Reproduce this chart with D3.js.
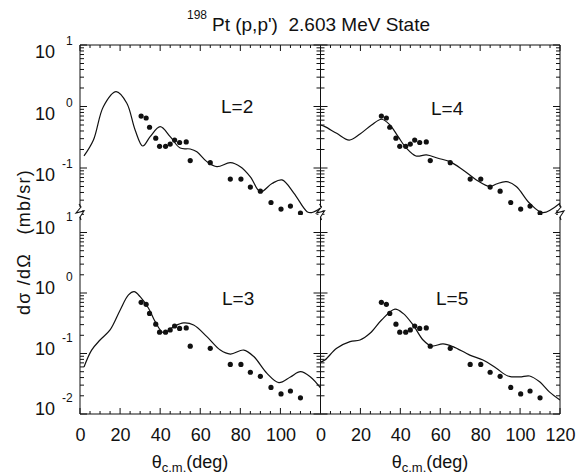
<!DOCTYPE html>
<html>
<head>
<meta charset="utf-8">
<script src="https://cdn.jsdelivr.net/npm/d3@7"></script>
<style>
  body { margin: 0; background: #fff; }
  text { font-family: "Liberation Sans", Arial, Helvetica, sans-serif; fill: #111; }
</style>
</head>
<body>
<svg id="chart" width="585" height="474"></svg>
<script>
// Measured angles (deg) and cross sections (mb/sr), same in every panel
const dataAngle = [30.5, 33, 34.7, 37.8, 39.7, 42.7, 45, 47.2, 49.7, 53, 55, 65, 75, 80.3, 85, 90, 95.3, 100.3, 105, 110];
const dataValue = [0.70, 0.65, 0.46, 0.305, 0.225, 0.225, 0.245, 0.285, 0.26, 0.265, 0.132, 0.122, 0.066, 0.066, 0.049, 0.042, 0.0275, 0.0215, 0.024, 0.0185];

// DWBA curves
const l2Angle = [2, 6.7, 11.7, 18, 23.3, 27.5, 31.3, 35, 40, 45, 50, 55, 58.3, 63.3, 68.3, 75, 80, 85, 90, 95.8, 100.8, 106.7, 113.3, 115.5, 120];
const l2Value = [0.157, 0.285, 1.0, 1.74, 1.14, 0.415, 0.228, 0.323, 0.47, 0.323, 0.211, 0.204, 0.184, 0.127, 0.105, 0.122, 0.105, 0.072, 0.041, 0.056, 0.064, 0.039, 0.0195, 0.0188, 0.0224];

const l4Angle = [0, 2.2, 8.1, 14.4, 19.8, 25.6, 30.6, 34.8, 38.9, 43.1, 47.8, 53.1, 58.9, 64.8, 71.4, 78.1, 84.8, 88.1, 93.1, 98.1, 104.8, 111.4, 120];
const l4Value = [0.50, 0.47, 0.366, 0.285, 0.357, 0.50, 0.62, 0.50, 0.323, 0.209, 0.157, 0.163, 0.144, 0.127, 0.093, 0.064, 0.050, 0.055, 0.060, 0.050, 0.0267, 0.0188, 0.0267];

const l3Angle = [2, 5.8, 10, 15, 20, 24.2, 27, 30, 34.2, 37.5, 41.7, 46.7, 51.7, 56.7, 63.3, 70, 75, 81.7, 86.7, 93.3, 99.2, 105, 110, 115, 120];
const l3Value = [0.060, 0.114, 0.167, 0.245, 0.52, 0.93, 1.05, 0.87, 0.56, 0.336, 0.22, 0.277, 0.32, 0.296, 0.19, 0.114, 0.098, 0.114, 0.089, 0.047, 0.033, 0.041, 0.050, 0.041, 0.027];

const l5Angle = [0, 2.2, 8.1, 14.8, 19.8, 24.8, 30.6, 37.3, 41.4, 46.4, 51.4, 55.6, 61.4, 66.4, 74.8, 81.4, 88.1, 93.9, 99.8, 104.8, 109.8, 114.8, 120];
const l5Value = [0.072, 0.078, 0.122, 0.157, 0.167, 0.216, 0.358, 0.54, 0.46, 0.296, 0.167, 0.133, 0.144, 0.13, 0.094, 0.078, 0.057, 0.0425, 0.041, 0.0425, 0.034, 0.023, 0.017];

const panelNames = ["L=2", "L=4", "L=3", "L=5"];
const xTickLeft = [0, 20, 40, 60, 80, 100];
const xTickRight = [0, 20, 40, 60, 80, 100, 120];
const yExpTop = [1, 0, -1];
const yExpBottom = [1, 0, -1, -2];

const svg = d3.select("#chart");

// Layout
const x0 = 80, xMid = 320.5, x1 = 560;
const yTop = 45, yBreak = 212, yBot = 414;

const xLeft = d3.scaleLinear().domain([0, 120]).range([x0, xMid]);
const xRight = d3.scaleLinear().domain([0, 120]).range([xMid, x1]);

// top row: 10^0 at y=106.5, 61.5 px per decade; bottom row: 10^0 at y=293, 60.5 px per decade
const yUpper = d3.scaleLog()
    .domain([10, Math.pow(10, (106.5 - yBreak) / 61.5)])
    .range([yTop, yBreak]);
const yLower = d3.scaleLog()
    .domain([Math.pow(10, (293 - yBreak) / 60.5), 0.01])
    .range([yBreak, yBot]);

const panels = [
    { x: xLeft, y: yUpper, angle: l2Angle, value: l2Value, name: panelNames[0], lx: 221, ly: 113 },
    { x: xRight, y: yUpper, angle: l4Angle, value: l4Value, name: panelNames[1], lx: 431, ly: 115 },
    { x: xLeft, y: yLower, angle: l3Angle, value: l3Value, name: panelNames[2], lx: 222, ly: 305 },
    { x: xRight, y: yLower, angle: l5Angle, value: l5Value, name: panelNames[3], lx: 436, ly: 305 }
];

// clip each panel so curves stop at the axis break
panels.forEach(function (p, i) {
    const r = p.y.range();
    svg.append("clipPath").attr("id", "clip" + i)
        .append("rect")
        .attr("x", p.x.range()[0]).attr("y", r[0] - 3)
        .attr("width", p.x.range()[1] - p.x.range()[0])
        .attr("height", r[1] - r[0] + 6);
});

// log ticks inside a domain
function logTicks(scale) {
    const d = scale.domain();
    const lo = Math.min(d[0], d[1]) * 0.999, hi = Math.max(d[0], d[1]) * 1.001;
    const major = [], minor = [];
    for (let e = -3; e <= 2; e++) {
        for (let k = 1; k <= 9; k++) {
            const v = k * Math.pow(10, e);
            if (v < lo || v > hi) continue;
            (k === 1 ? major : minor).push(v);
        }
    }
    return { major, minor };
}

// y ticks on the outer frame and the middle divider
const frame = svg.append("g").attr("stroke", "#111").attr("stroke-width", 1);
[yUpper, yLower].forEach(function (ys) {
    const t = logTicks(ys);
    [[t.major, 7], [t.minor, 4]].forEach(function (pair) {
        pair[0].forEach(function (v) {
            const yy = ys(v);
            frame.append("line").attr("x1", x0).attr("x2", x0 + pair[1]).attr("y1", yy).attr("y2", yy);
            frame.append("line").attr("x1", xMid - pair[1]).attr("x2", xMid + pair[1]).attr("y1", yy).attr("y2", yy);
            frame.append("line").attr("x1", x1 - pair[1]).attr("x2", x1).attr("y1", yy).attr("y2", yy);
        });
    });
});

// x ticks on top and bottom edges
[xLeft, xRight].forEach(function (xs) {
    d3.range(0, 121, 5).forEach(function (v) {
        const len = v % 20 === 0 ? 6 : 3;
        const xx = xs(v);
        frame.append("line").attr("x1", xx).attr("x2", xx).attr("y1", yTop).attr("y2", yTop + len);
        frame.append("line").attr("x1", xx).attr("x2", xx).attr("y1", yBot).attr("y2", yBot - len);
    });
});

// frame lines
frame.append("line").attr("x1", x0).attr("x2", x1).attr("y1", yTop).attr("y2", yTop);
frame.append("line").attr("x1", x0).attr("x2", x1).attr("y1", yBot).attr("y2", yBot);
[x0, xMid, x1].forEach(function (xx) {
    frame.append("line").attr("x1", xx).attr("x2", xx).attr("y1", yTop).attr("y2", yBot);
});

// axis break marks
[x0, xMid, x1].forEach(function (xx) {
    svg.append("rect").attr("x", xx - 2).attr("y", yBreak - 5).attr("width", 4).attr("height", 10).attr("fill", "#fff");
    svg.append("path")
        .attr("d", `M${xx - 1},${yBreak - 8} L${xx + 1},${yBreak - 5} L${xx - 4},${yBreak + 1} L${xx + 4},${yBreak - 1} L${xx},${yBreak + 5} L${xx + 1},${yBreak + 8}`)
        .attr("fill", "none").attr("stroke", "#111").attr("stroke-width", 1.1);
});

// bottom tick labels through d3 axes (ticks already drawn, so hide axis lines)
function bottomAxis(xs, values) {
    const g = svg.append("g")
        .attr("transform", "translate(0," + yBot + ")")
        .call(d3.axisBottom(xs).tickValues(values).tickSize(0).tickPadding(14).tickFormat(d3.format("d")));
    g.select(".domain").remove();
    g.selectAll("text").attr("font-size", 18).attr("font-family", null).attr("fill", "#111");
}
bottomAxis(xLeft, xTickLeft);
bottomAxis(xRight, xTickRight);

// y tick labels, 10 with exponent
function yLabels(ys, exps, dy) {
    exps.forEach(function (e) {
        const yy = ys(Math.pow(10, e)) + dy;
        svg.append("text").attr("x", 55).attr("y", yy + 6).attr("text-anchor", "end")
            .attr("font-size", 18).text("10");
        svg.append("text").attr("x", e < 0 ? 62 : 66).attr("y", yy - 7)
            .attr("font-size", 12).text(String(e));
    });
}
yLabels(yUpper, yExpTop, 7);
yLabels(yLower, yExpBottom, -5);

// curves and data points
const line = d3.line().curve(d3.curveCatmullRom.alpha(0.5));
panels.forEach(function (p, i) {
    const g = svg.append("g").attr("clip-path", "url(#clip" + i + ")");
    g.append("path")
        .attr("d", line(p.angle.map((a, j) => [p.x(a), p.y(p.value[j])])))
        .attr("fill", "none").attr("stroke", "#111").attr("stroke-width", 1.2);
    g.selectAll("circle")
        .data(dataAngle.map((a, j) => [a, dataValue[j]]))
        .enter().append("circle")
        .attr("cx", d => p.x(d[0]))
        .attr("cy", d => p.y(d[1]))
        .attr("r", 2.6)
        .attr("fill", "#111");
    svg.append("text").attr("x", p.lx).attr("y", p.ly).attr("font-size", 19).text(p.name);
});

// title
svg.append("text").attr("x", 187).attr("y", 19).attr("font-size", 12).text("198");
svg.append("text").attr("x", 212).attr("y", 31).attr("font-size", 19)
    .attr("xml:space", "preserve").text("Pt (p,p')  2.603 MeV State");

// y axis title
svg.append("text")
    .attr("transform", "translate(30,242) rotate(-90)")
    .attr("text-anchor", "middle")
    .attr("font-size", 18)
    .attr("letter-spacing", 1.2)
    .attr("xml:space", "preserve")
    .text("d\u03c3 /d\u03a9   (mb/sr)");

// x axis titles
[190, 430].forEach(function (cx) {
    const t = svg.append("text").attr("x", cx).attr("y", 468).attr("text-anchor", "middle").attr("font-size", 18);
    t.append("tspan").text("\u03b8");
    t.append("tspan").attr("font-size", 13).attr("dy", 4).text("c.m.");
    t.append("tspan").attr("dy", -4).text("(deg)");
});
</script>
</body>
</html>
